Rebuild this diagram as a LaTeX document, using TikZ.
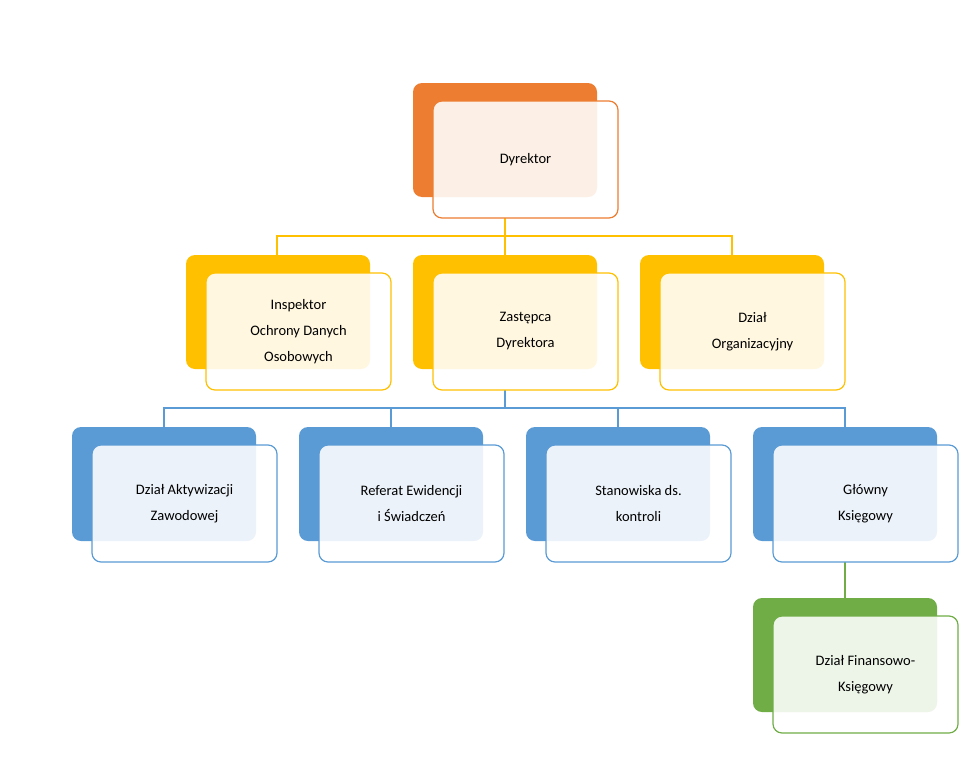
\documentclass[tikz,border=0pt]{standalone}
\usepackage{fontspec}
\setmainfont{Carlito}
\begin{document}
\begin{tikzpicture}[x=1pt,y=-1pt,
  backbox/.style={fill=#1,rounded corners=9pt},
  frontbox/.style={draw=#1,line width=1.2pt,fill=white,fill opacity=0.88,text opacity=1,rounded corners=9pt,minimum width=185pt,minimum height=117pt,align=center,font=\fontsize{14.5}{26}\selectfont},
  conn/.style={draw=#1,line width=1.1pt}]
\useasboundingbox (0,0) rectangle (976,760);
\definecolor{cor}{HTML}{ED7D31}\definecolor{cye}{HTML}{FFC000}
\definecolor{cbl}{HTML}{5B9BD5}\definecolor{cgr}{HTML}{70AD47}
% connectors
\draw[conn=cye] (505,218) -- (505,236) (277,255) -- (277,236) -- (732,236) -- (732,255) (505,236) -- (505,255);
\draw[conn=cbl] (505,390) -- (505,408) (164,427) -- (164,408) -- (845,408) -- (845,427) (391,408) -- (391,427) (618,408) -- (618,427);
\draw[conn=cgr] (845,562) -- (845,598);
% boxes
\newcommand{\orgbox}[5]{%
  \fill[backbox=#3] (#1,#2) rectangle ++(184,114);
  \node[frontbox=#3] (#4) at (#1+20+92.5,#2+18+58.5) {#5};}
\orgbox{413}{83}{cor}{dyr}{Dyrektor}
\orgbox{186}{255}{cye}{iod}{Inspektor\\Ochrony Danych\\Osobowych}
\orgbox{413}{255}{cye}{zas}{Zastępca\\Dyrektora}
\orgbox{640}{255}{cye}{org}{Dział\\Organizacyjny}
\orgbox{72}{427}{cbl}{akt}{Dział Aktywizacji\\Zawodowej}
\orgbox{299}{427}{cbl}{ref}{Referat Ewidencji\\i Świadczeń}
\orgbox{526}{427}{cbl}{sta}{Stanowiska ds.\\kontroli}
\orgbox{753}{427}{cbl}{gk}{Główny\\Księgowy}
\orgbox{753}{598}{cgr}{fin}{Dział Finansowo-\\Księgowy}
\end{tikzpicture}
\end{document}
